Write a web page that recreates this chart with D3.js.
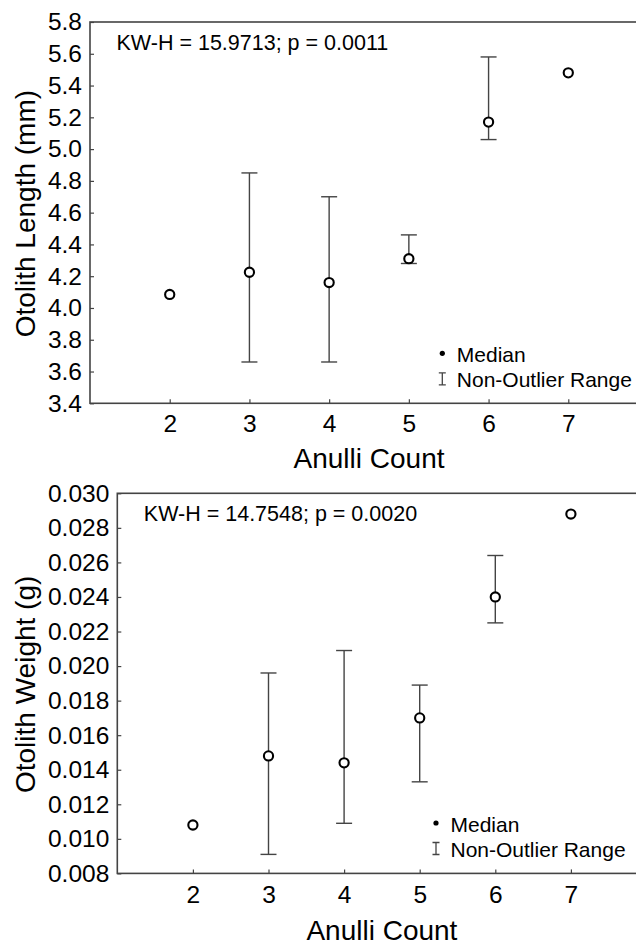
<!DOCTYPE html>
<html>
<head>
<meta charset="utf-8">
<script src="https://cdn.jsdelivr.net/npm/d3@7"></script>
<style>
  html, body { margin: 0; padding: 0; background: #fff; }
  svg { display: block; }
  text { font-family: "Liberation Sans", Arial, Helvetica, sans-serif; fill: #000; }
</style>
</head>
<body>
<svg id="chart" width="636" height="945"></svg>
<script>
// Anulli counts shared by both panels
const anulli = [2, 3, 4, 5, 6, 7];
const xTicks = [2, 3, 4, 5, 6, 7];

// Otolith length (mm): median and non-outlier range per anulli count
const lengthMedian = [4.085, 4.225, 4.16, 4.31, 5.17, 5.48];
const lengthLow    = [null, 3.66, 3.66, 4.28, 5.06, null];
const lengthHigh   = [null, 4.85, 4.70, 4.46, 5.58, null];
const lengthTicks  = [3.4, 3.6, 3.8, 4.0, 4.2, 4.4, 4.6, 4.8, 5.0, 5.2, 5.4, 5.6, 5.8];

// Otolith weight (g): median and non-outlier range per anulli count
const weightMedian = [0.0108, 0.0148, 0.0144, 0.0170, 0.0240, 0.0288];
const weightLow    = [null, 0.0091, 0.0109, 0.0133, 0.0225, null];
const weightHigh   = [null, 0.0196, 0.0209, 0.0189, 0.0264, null];
const weightTicks  = [0.008, 0.010, 0.012, 0.014, 0.016, 0.018, 0.020, 0.022, 0.024, 0.026, 0.028, 0.030];

const svg = d3.select("#chart");
const lineColor = "#444";

function panel(cfg) {
  const x = d3.scaleLinear().domain([1, 8]).range([cfg.left, cfg.right]);
  const y = d3.scaleLinear().domain([cfg.yTicks[0], cfg.yTicks[cfg.yTicks.length - 1]])
    .range([cfg.bottom, cfg.top]);
  const g = svg.append("g");

  // Y axis (ticks point into the plot)
  const ya = g.append("g")
    .attr("transform", `translate(${cfg.left},0)`)
    .call(d3.axisLeft(y).tickValues(cfg.yTicks).tickFormat(d3.format(cfg.fmt))
      .tickSize(-4).tickSizeOuter(0).tickPadding(8));
  ya.select(".domain").remove();
  ya.selectAll(".tick line").attr("stroke", lineColor).attr("stroke-width", 1.2);
  ya.selectAll(".tick text").attr("font-size", 24.5).attr("fill", "#000");

  // X axis
  const xa = g.append("g")
    .attr("transform", `translate(0,${cfg.bottom})`)
    .call(d3.axisBottom(x).tickValues(xTicks).tickFormat(d3.format("d"))
      .tickSize(-4).tickSizeOuter(0));
  xa.select(".domain").remove();
  xa.selectAll(".tick line").attr("stroke", lineColor).attr("stroke-width", 1.2);
  xa.selectAll(".tick text").attr("font-size", 24.5).attr("fill", "#000")
    .attr("dy", null).attr("y", cfg.xTickBase);

  // Plot frame
  g.append("rect")
    .attr("x", cfg.left).attr("y", cfg.top)
    .attr("width", cfg.right - cfg.left).attr("height", cfg.bottom - cfg.top)
    .attr("fill", "none").attr("stroke", lineColor).attr("stroke-width", 1.6);

  // Axis titles
  g.append("text")
    .attr("x", (cfg.left + cfg.right) / 2).attr("y", cfg.bottom + cfg.xTitleBase)
    .attr("text-anchor", "middle").attr("font-size", 28)
    .text("Anulli Count");
  g.append("text")
    .attr("transform", `translate(34.5,${(cfg.top + cfg.bottom) / 2 + 1}) rotate(-90)`)
    .attr("text-anchor", "middle").attr("font-size", 28)
    .text(cfg.yTitle);

  // Kruskal-Wallis annotation
  g.append("text")
    .attr("x", cfg.left + 26.5).attr("y", cfg.top + 28)
    .attr("font-size", 21.5)
    .text(cfg.stat);

  // Non-outlier range whiskers
  const rows = anulli.map((a, i) => ({ a, med: cfg.med[i], lo: cfg.lo[i], hi: cfg.hi[i] }));
  const ranged = rows.filter(d => d.lo != null && d.hi != null);
  const cap = 8;
  const wg = g.append("g").attr("stroke", lineColor).attr("stroke-width", 1.4);
  wg.selectAll(".stem").data(ranged).join("line")
    .attr("x1", d => x(d.a)).attr("x2", d => x(d.a))
    .attr("y1", d => y(d.lo)).attr("y2", d => y(d.hi));
  wg.selectAll(".capHi").data(ranged).join("line")
    .attr("x1", d => x(d.a) - cap).attr("x2", d => x(d.a) + cap)
    .attr("y1", d => y(d.hi)).attr("y2", d => y(d.hi));
  wg.selectAll(".capLo").data(ranged).join("line")
    .attr("x1", d => x(d.a) - cap).attr("x2", d => x(d.a) + cap)
    .attr("y1", d => y(d.lo)).attr("y2", d => y(d.lo));

  // Medians
  g.append("g").selectAll("circle").data(rows).join("circle")
    .attr("cx", d => x(d.a)).attr("cy", d => y(d.med)).attr("r", 4.6)
    .attr("fill", "#fff").attr("stroke", "#000").attr("stroke-width", 2.1);

  // Legend
  const lg = g.append("g");
  lg.append("circle").attr("cx", cfg.legX).attr("cy", cfg.legY).attr("r", 2.6).attr("fill", "#000");
  lg.append("text").attr("x", cfg.legX + 14.5).attr("y", cfg.legY + 8.5)
    .attr("font-size", 21).text("Median");
  const iy0 = cfg.legY + 19.5, iy1 = cfg.legY + 31.5;
  lg.append("path")
    .attr("d", `M${cfg.legX - 3.5},${iy0}H${cfg.legX + 3.5}M${cfg.legX},${iy0}V${iy1}M${cfg.legX - 3.5},${iy1}H${cfg.legX + 3.5}`)
    .attr("stroke", lineColor).attr("stroke-width", 1.3).attr("fill", "none");
  lg.append("text").attr("x", cfg.legX + 14.5).attr("y", cfg.legY + 33.5)
    .attr("font-size", 21).text("Non-Outlier Range");
}

panel({
  left: 90, right: 648, top: 22, bottom: 403.3,
  yTicks: lengthTicks, fmt: ".1f",
  med: lengthMedian, lo: lengthLow, hi: lengthHigh,
  yTitle: "Otolith Length (mm)",
  stat: "KW-H = 15.9713; p = 0.0011",
  xTickBase: 28.8, xTitleBase: 65,
  legX: 442.3, legY: 353.3
});

panel({
  left: 117.3, right: 646.5, top: 493.3, bottom: 873.4,
  yTicks: weightTicks, fmt: ".3f",
  med: weightMedian, lo: weightLow, hi: weightHigh,
  yTitle: "Otolith Weight (g)",
  stat: "KW-H = 14.7548; p = 0.0020",
  xTickBase: 30, xTitleBase: 66.5,
  legX: 436, legY: 823
});
</script>
</body>
</html>
